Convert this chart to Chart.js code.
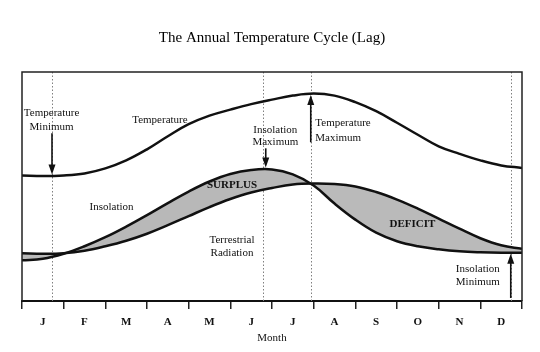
<!DOCTYPE html>
<html><head><meta charset="utf-8">
<script src="https://cdn.jsdelivr.net/npm/chart.js@4.4.1/dist/chart.umd.min.js"></script>
<style>html,body{margin:0;padding:0;background:#fff;} #wrap{width:540px;height:352px;}</style>
</head><body><div id="wrap"><canvas id="c" width="540" height="352"></canvas></div>
<script>
// ---- data (relative energy / temperature units) ----
const monthLabels = ['J','F','M','A','M','J','J','A','S','O','N','D'];
const months = [0,0.5,1,1.5,2,2.5,3,3.5,4,4.5,5,5.5,6,6.5,7,7.5,8,8.5,9,9.5,10,10.5,11,11.5,12];
const temperature = [125,124.5,125,127,132,140,151,164,176,184.5,190.5,196,200.5,204.5,206.5,204.5,198,189,177.5,165.5,154,146.5,140,135,132.5];
const insolation  = [40.5,42,47,54.5,63.5,74,85.5,97.5,109,119,126.5,130.5,131,126,115,97,81,68,59.5,54.5,51.5,49.5,48.5,48,48];
const terrestrial = [47.5,47,47.5,50,54.5,60,67,75.5,84.5,93.5,101.5,108,112.5,116,117,116.5,114,108.5,101,92,82,72,62.5,55.5,52];
const eventMonths = {tempMin:0.72, insolMax:5.78, tempMax:6.93, insolMin:11.73};

const SERIF = '"Liberation Serif","Times New Roman",serif';
const toXY = arr => months.map((m,i)=>({x:m, y:arr[i]}));

const notes = [
  {lines:['Temperature','Minimum'], m:0.71, v:[187,173]},
  {lines:['Temperature'], m:3.31, v:[180]},
  {lines:['Insolation','Maximum'], m:6.08, v:[170,158]},
  {lines:['Temperature','Maximum'], m:7.04, v:[177,162], align:'left'},
  {lines:['SURPLUS'], m:5.04, v:[115], bold:true},
  {lines:['Insolation'], m:2.15, v:[93]},
  {lines:['Terrestrial','Radiation'], m:5.04, v:[61,48]},
  {lines:['DEFICIT'], m:9.37, v:[77], bold:true},
  {lines:['Insolation','Minimum'], m:10.94, v:[32,19]}
];
const arrows = [
  {m:eventMonths.tempMin, from:167, to:126},
  {m:eventMonths.insolMax+0.07, from:152, to:133},
  {m:eventMonths.tempMax, from:158, to:205},
  {m:eventMonths.insolMin, from:3, to:47}
];

const decor = {
  id:'decor',
  beforeDatasetsDraw(chart){
    const {ctx, chartArea:a, scales:{x}} = chart;
    ctx.save();
    ctx.strokeStyle = '#808080'; ctx.lineWidth = 1; ctx.setLineDash([1.5,2]);
    Object.values(eventMonths).forEach(m=>{
      const px = Math.round(x.getPixelForValue(m))+0.5;
      ctx.beginPath(); ctx.moveTo(px,a.top); ctx.lineTo(px,a.bottom); ctx.stroke();
    });
    ctx.restore();
  },
  afterDatasetsDraw(chart){
    const {ctx, chartArea:a, scales:{x,y}} = chart;
    ctx.save();
    ctx.strokeStyle = '#222'; ctx.lineWidth = 1.5;
    ctx.beginPath(); ctx.moveTo(a.left,a.bottom); ctx.lineTo(a.left,a.top); ctx.lineTo(a.right,a.top); ctx.lineTo(a.right,a.bottom); ctx.stroke();
    ctx.fillStyle = '#111'; ctx.strokeStyle = '#111'; ctx.lineWidth = 1.6;
    arrows.forEach(ar=>{
      const px = x.getPixelForValue(ar.m);
      const y0 = y.getPixelForValue(ar.from), y1 = y.getPixelForValue(ar.to);
      const dir = y1 > y0 ? 1 : -1;
      ctx.beginPath(); ctx.moveTo(px,y0); ctx.lineTo(px,y1 - dir*8); ctx.stroke();
      ctx.beginPath(); ctx.moveTo(px,y1); ctx.lineTo(px-3.5,y1-dir*10); ctx.lineTo(px+3.5,y1-dir*10); ctx.closePath(); ctx.fill();
    });
    ctx.textBaseline = 'middle';
    notes.forEach(n=>{
      ctx.font = (n.bold ? 'bold ' : '') + '11px ' + SERIF;
      ctx.textAlign = n.align || 'center';
      const px = x.getPixelForValue(n.m);
      n.lines.forEach((t,i)=> ctx.fillText(t, px, y.getPixelForValue(n.v[i])));
    });
    ctx.restore();
  }
};

const lineStyle = {borderColor:'#111', borderWidth:2.5, pointRadius:0, tension:0.4};
new Chart(document.getElementById('c'), {
  type:'line',
  data:{datasets:[
    Object.assign({label:'Temperature', data:toXY(temperature), fill:false, order:0}, lineStyle),
    Object.assign({label:'Insolation', data:toXY(insolation), order:1,
      fill:{target:2, above:'rgb(184,184,184)', below:'rgb(186,186,186)'}}, lineStyle),
    Object.assign({label:'Terrestrial Radiation', data:toXY(terrestrial), fill:false, order:-1}, lineStyle)
  ]},
  options:{
    responsive:false, animation:false, devicePixelRatio:1,
    layout:{padding:{left:22, right:18, top:0, bottom:8}},
    plugins:{
      legend:{display:false}, tooltip:{enabled:false},
      title:{display:true, text:'The Annual Temperature Cycle (Lag)', color:'#000',
        font:{family:SERIF, size:15, weight:'normal'}, padding:{top:29, bottom:25}}
    },
    scales:{
      x:{type:'linear', min:0, max:12,
        ticks:{stepSize:1, autoSkip:false, maxRotation:0, padding:8, labelOffset:20.8, color:'#111',
          font:{family:SERIF, size:11, weight:'bold', lineHeight:1},
          callback:v=> monthLabels[v] !== undefined ? monthLabels[v] : ''},
        grid:{display:true, drawOnChartArea:false, drawTicks:true, tickLength:8, color:'#222', lineWidth:1.5},
        border:{display:true, color:'#111', width:2},
        title:{display:true, text:'Month', color:'#111', font:{family:SERIF, size:11, lineHeight:1}, padding:{top:-3, bottom:0}}
      },
      y:{display:false, min:0, max:228}
    }
  },
  plugins:[decor]
});
</script></body></html>
